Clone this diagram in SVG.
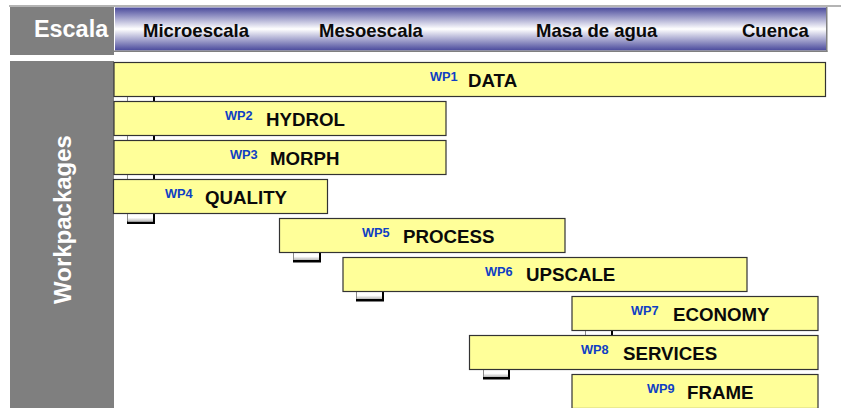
<svg xmlns="http://www.w3.org/2000/svg" width="841" height="408" viewBox="0 0 841 408">
<style>
.bar{fill:#ffff99;stroke:#333;stroke-width:1.2}
.wp{font:bold 12.8px "Liberation Sans",Arial,sans-serif;fill:#0f3fc4}
.nm{font:bold 18.7px "Liberation Sans",Arial,sans-serif;fill:#0a0a0a}
.sc{font:bold 18.5px "Liberation Sans",Arial,sans-serif;fill:#0a0a0a}
.tab{fill:url(#t)}
.sh{fill:#000}
.edge{fill:#8a8a8a}
</style>
<defs>
<linearGradient id="h" x1="0" y1="0" x2="0" y2="1"><stop offset="0" stop-color="#4a4a9c"/><stop offset="0.5" stop-color="#ffffff"/><stop offset="1" stop-color="#4a4a9c"/></linearGradient>
<linearGradient id="t" x1="0" y1="0" x2="0" y2="1"><stop offset="0" stop-color="#ffffff"/><stop offset="0.55" stop-color="#ffffff"/><stop offset="1" stop-color="#b8b8b8"/></linearGradient>
</defs>
<rect width="841" height="408" fill="#fff"/>
<g id="frame">
<rect x="9" y="5" width="832" height="2" fill="#b4b4b4"/>
<rect x="10" y="7" width="104" height="48" fill="#7f7f7f"/>
<rect x="10" y="61" width="104" height="347" fill="#7f7f7f"/>
<rect x="115" y="7.500" width="711" height="43" fill="url(#h)"/>
<rect x="826" y="7" width="1.500" height="45" fill="#808080"/>
<rect x="114" y="50.500" width="713.500" height="1.500" fill="#808080"/>
<text x="34" y="37" font-family="Liberation Sans, Arial, sans-serif" font-weight="bold" font-size="23.400" fill="#fff">Escala</text>
<text transform="translate(71,304) rotate(-90)" font-family="Liberation Sans, Arial, sans-serif" font-weight="bold" font-size="24" fill="#fff">Workpackages</text>
<text class="sc" x="143" y="37">Microescala</text>
<text class="sc" x="319" y="37">Mesoescala</text>
<text class="sc" x="536" y="37">Masa de agua</text>
<text class="sc" x="742" y="37">Cuenca</text>
</g>
<g id="connectors">
<rect class="edge" x="127" y="97" width="1" height="125"/>
<rect x="128" y="97" width="25" height="125" fill="#fff"/>
<rect class="sh" x="153" y="97" width="2" height="127"/>
<rect class="sh" x="127" y="221.500" width="28" height="2.500"/>
<rect class="tab" x="128" y="213" width="25" height="8.500"/>
<rect class="edge" x="293" y="252" width="1" height="9"/>
<rect class="sh" x="293" y="260" width="28" height="2.500"/>
<rect class="sh" x="319" y="252" width="2" height="10"/>
<rect class="tab" x="294" y="252" width="25" height="8"/>
<rect class="edge" x="356" y="291" width="1" height="9"/>
<rect class="sh" x="356" y="299" width="28" height="2.500"/>
<rect class="sh" x="382" y="291" width="2" height="10"/>
<rect class="tab" x="357" y="291" width="25" height="8"/>
<rect class="edge" x="585" y="330" width="1" height="6"/>
<rect class="sh" x="611" y="330" width="2" height="6"/>
<rect x="586" y="330" width="25" height="6" fill="#fff"/>
<rect class="edge" x="483" y="369" width="1" height="9"/>
<rect class="sh" x="483" y="377" width="27" height="2.500"/>
<rect class="sh" x="508" y="369" width="2" height="10"/>
<rect class="tab" x="484" y="369" width="24" height="8"/>
</g>
<g id="wp1"><rect class="bar" x="114" y="62.500" width="711.500" height="34"/><text class="wp" x="430" y="81">WP1</text><text class="nm" x="468" y="87">DATA</text></g>
<g id="wp2"><rect class="bar" x="114" y="101.500" width="332" height="34"/><text class="wp" x="225" y="120">WP2</text><text class="nm" x="266" y="126">HYDROL</text></g>
<g id="wp3"><rect class="bar" x="114" y="140.500" width="332" height="34"/><text class="wp" x="230" y="159">WP3</text><text class="nm" x="270" y="165">MORPH</text></g>
<g id="wp4"><rect class="bar" x="113.500" y="179.500" width="214" height="34"/><text class="wp" x="165" y="198">WP4</text><text class="nm" x="205" y="204">QUALITY</text></g>
<g id="wp5"><rect class="bar" x="279.500" y="218.500" width="285.500" height="34"/><text class="wp" x="362" y="237">WP5</text><text class="nm" x="403" y="243">PROCESS</text></g>
<g id="wp6"><rect class="bar" x="343" y="257.500" width="404" height="34"/><text class="wp" x="485" y="276">WP6</text><text class="nm" x="526" y="281">UPSCALE</text></g>
<g id="wp7"><rect class="bar" x="572" y="296.500" width="246" height="34"/><text class="wp" x="631" y="315">WP7</text><text class="nm" x="673" y="321">ECONOMY</text></g>
<g id="wp8"><rect class="bar" x="469.500" y="335.500" width="348.500" height="34"/><text class="wp" x="581" y="354">WP8</text><text class="nm" x="623" y="360">SERVICES</text></g>
<g id="wp9"><rect class="bar" x="572" y="374.500" width="246" height="34"/><text class="wp" x="647" y="393">WP9</text><text class="nm" x="687" y="399">FRAME</text></g>
</svg>
